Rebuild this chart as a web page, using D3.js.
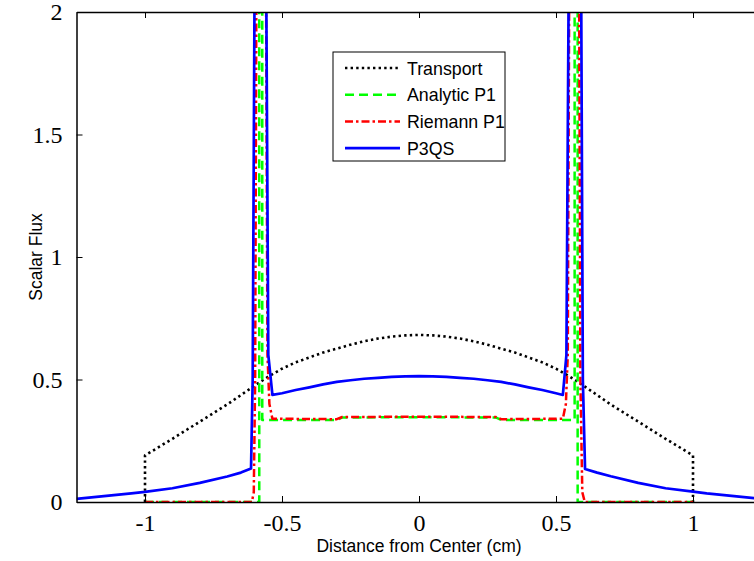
<!DOCTYPE html>
<html>
<head>
<meta charset="utf-8">
<script src="https://cdn.jsdelivr.net/npm/d3@7/dist/d3.min.js"></script>
<style>
  body { margin: 0; background: #fff; }
  svg { display: block; }
</style>
</head>
<body>
<svg id="chart" width="754" height="561"></svg>
<script>
// Scalar flux profiles across the slab (x in cm)
const transportX = [-1, -1, -0.9, -0.8, -0.7, -0.6, -0.55, -0.5, -0.45, -0.4, -0.35, -0.3, -0.25, -0.2, -0.15, -0.1, -0.05, 0,
                    0.05, 0.1, 0.15, 0.2, 0.25, 0.3, 0.35, 0.4, 0.45, 0.5, 0.55, 0.6, 0.7, 0.8, 0.9, 1, 1];
const transportY = [0, 0.19, 0.258, 0.328, 0.398, 0.475, 0.512, 0.544, 0.57, 0.59, 0.61, 0.626, 0.642, 0.656, 0.667, 0.675, 0.68, 0.682,
                    0.68, 0.675, 0.667, 0.656, 0.642, 0.626, 0.61, 0.59, 0.57, 0.544, 0.512, 0.475, 0.398, 0.328, 0.258, 0.19, 0];

const analyticX = [-1, -0.583, -0.583, -0.572, -0.572, -0.3, -0.28, 0, 0.28, 0.3, 0.568, 0.568, 0.579, 0.579, 1];
const analyticY = [0, 0, 2.6, 2.6, 0.335, 0.335, 0.345, 0.346, 0.345, 0.335, 0.335, 2.6, 2.6, 0, 0];

const riemannX = [-1, -0.61, -0.603, -0.598, -0.592, -0.56, -0.553, -0.546, -0.535, -0.3, -0.28, 0,
                  0.28, 0.3, 0.525, 0.536, 0.543, 0.55, 0.583, 0.589, 0.596, 0.605, 1];
const riemannY = [0, 0, 0.04, 0.5, 2.6, 2.6, 0.6, 0.4, 0.34, 0.338, 0.347, 0.348,
                  0.347, 0.338, 0.34, 0.4, 0.6, 2.6, 2.6, 0.5, 0.04, 0, 0];

const p3qsX = [-1.25, -1.15, -1.05, -1.0, -0.9, -0.8, -0.7, -0.65, -0.613, -0.607, -0.598, -0.56, -0.55, -0.535,
               -0.5, -0.45, -0.4, -0.35, -0.3, -0.25, -0.2, -0.15, -0.1, -0.05, 0, 0.05, 0.1, 0.15, 0.2, 0.25, 0.3,
               0.35, 0.4, 0.45, 0.5, 0.525, 0.538, 0.549, 0.59, 0.598, 0.606, 0.65, 0.7, 0.8, 0.9, 1.0, 1.05, 1.15, 1.25];
const p3qsY = [0.013, 0.024, 0.035, 0.041, 0.056, 0.078, 0.104, 0.12, 0.137, 0.5, 2.6, 2.6, 0.6, 0.437,
               0.444, 0.457, 0.468, 0.48, 0.49, 0.497, 0.503, 0.507, 0.511, 0.513, 0.514, 0.513, 0.511, 0.507, 0.503, 0.497, 0.49,
               0.48, 0.468, 0.457, 0.444, 0.437, 0.6, 2.6, 2.6, 0.5, 0.135, 0.12, 0.105, 0.078, 0.056, 0.042, 0.035, 0.024, 0.013];

const xTicks = [-1, -0.5, 0, 0.5, 1];
const yTicks = [0, 0.5, 1, 1.5, 2];
const xTickLabels = ["-1", "-0.5", "0", "0.5", "1"];
const yTickLabels = ["0", "0.5", "1", "1.5", "2"];

const seriesNames = ["Transport", "Analytic P1", "Riemann P1", "P3QS"];

const styles = [
  { color: "#000000", width: 2.6, dash: "2.4,3.2" },
  { color: "#00ff00", width: 2.5, dash: "9,5" },
  { color: "#ff0000", width: 2.5, dash: "8,3,2.5,3" },
  { color: "#0000ff", width: 2.7, dash: null }
];

const series = [
  transportX.map((v, i) => [v, transportY[i]]),
  analyticX.map((v, i) => [v, analyticY[i]]),
  riemannX.map((v, i) => [v, riemannY[i]]),
  p3qsX.map((v, i) => [v, p3qsY[i]])
];

const svg = d3.select("#chart");
const plotLeft = 76.5, plotTop = 12, plotBottom = 502, plotRight = 761.5;

const x = d3.scaleLinear().domain([-1.25, 1.25]).range([plotLeft, plotRight]);
const y = d3.scaleLinear().domain([0, 2]).range([plotBottom, plotTop]);

svg.append("defs").append("clipPath").attr("id", "plotclip")
  .append("rect").attr("x", plotLeft).attr("y", plotTop)
  .attr("width", plotRight - plotLeft).attr("height", plotBottom - plotTop);

// data lines
const line = d3.line().x(d => x(d[0])).y(d => y(d[1]));
const plot = svg.append("g").attr("clip-path", "url(#plotclip)");
series.forEach((s, i) => {
  plot.append("path")
    .datum(s)
    .attr("d", line)
    .attr("fill", "none")
    .attr("stroke", styles[i].color)
    .attr("stroke-width", styles[i].width)
    .attr("stroke-dasharray", styles[i].dash)
    .attr("stroke-linejoin", "round");
});

// axes box with inward ticks
const serif = "'Liberation Serif', 'Times New Roman', serif";
const sans = "'Liberation Sans', Arial, sans-serif";

const axBottom = d3.axisBottom(x).tickValues(xTicks).tickSizeInner(-6).tickSizeOuter(0)
  .tickFormat((d, i) => xTickLabels[i]).tickPadding(12);
const gx = svg.append("g").attr("transform", `translate(0,${plotBottom})`).call(axBottom);
gx.select(".domain").attr("stroke", "#000").attr("stroke-width", 1.5);
gx.selectAll(".tick line").attr("stroke", "#000");
gx.selectAll(".tick text").attr("font-family", serif).attr("font-size", 24).attr("fill", "#000");

const axTop = d3.axisTop(x).tickValues(xTicks).tickSizeInner(-6).tickSizeOuter(0).tickFormat("");
const gt = svg.append("g").attr("transform", `translate(0,${plotTop})`).call(axTop);
gt.select(".domain").attr("stroke", "#000").attr("stroke-width", 1.5);
gt.selectAll(".tick line").attr("stroke", "#000");

const axLeft = d3.axisLeft(y).tickValues(yTicks).tickSizeInner(-6).tickSizeOuter(0)
  .tickFormat((d, i) => yTickLabels[i]).tickPadding(14);
const gy = svg.append("g").attr("transform", `translate(${plotLeft},0)`).call(axLeft);
gy.select(".domain").attr("stroke", "#000").attr("stroke-width", 1.5);
gy.selectAll(".tick line").attr("stroke", "#000");
gy.selectAll(".tick text").attr("font-family", serif).attr("font-size", 24).attr("fill", "#000");

// axis titles
svg.append("text")
  .attr("x", x(0)).attr("y", 552)
  .attr("text-anchor", "middle")
  .attr("font-family", sans).attr("font-size", 17.5)
  .text("Distance from Center (cm)");

svg.append("text")
  .attr("transform", `translate(42,${y(1)}) rotate(-90)`)
  .attr("text-anchor", "middle")
  .attr("font-family", sans).attr("font-size", 17.5)
  .text("Scalar Flux");

// legend
const lg = svg.append("g");
const lgX = 333, lgY = 52, lgW = 172, lgH = 109;
lg.append("rect").attr("x", lgX).attr("y", lgY).attr("width", lgW).attr("height", lgH)
  .attr("fill", "#fff").attr("stroke", "#000").attr("stroke-width", 1);
seriesNames.forEach((name, i) => {
  const ry = lgY + 16 + i * 26.7;
  lg.append("line")
    .attr("x1", lgX + 12).attr("x2", lgX + 67)
    .attr("y1", ry).attr("y2", ry)
    .attr("stroke", styles[i].color)
    .attr("stroke-width", styles[i].width)
    .attr("stroke-dasharray", styles[i].dash);
  lg.append("text")
    .attr("x", lgX + 74).attr("y", ry + 6.5)
    .attr("font-family", sans).attr("font-size", 17.8)
    .text(name);
});
</script>
</body>
</html>
